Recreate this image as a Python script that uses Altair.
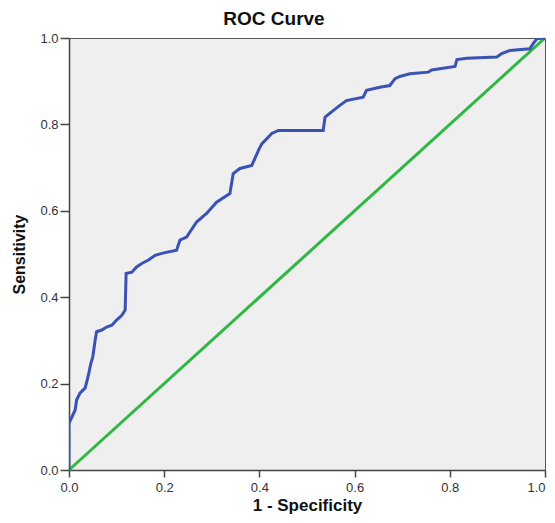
import altair as alt
import pandas as pd

# ROC curve points
fpr = [0, 0, 0.013, 0.016, 0.023, 0.034, 0.040, 0.046, 0.050, 0.055, 0.058, 0.069,
       0.079, 0.090, 0.100, 0.111, 0.118, 0.120, 0.132, 0.142, 0.153, 0.167, 0.181,
       0.197, 0.226, 0.233, 0.247, 0.268, 0.289, 0.310, 0.338, 0.345, 0.359, 0.384,
       0.398, 0.405, 0.426, 0.440, 0.534, 0.538, 0.555, 0.569, 0.583, 0.618, 0.625,
       0.653, 0.674, 0.685, 0.695, 0.716, 0.755, 0.762, 0.779, 0.811, 0.815, 0.836,
       0.899, 0.909, 0.926, 0.968, 0.975, 0.983, 1.0]
tpr = [0, 0.108, 0.139, 0.162, 0.178, 0.190, 0.216, 0.247, 0.262, 0.301, 0.320, 0.324,
       0.331, 0.335, 0.347, 0.358, 0.370, 0.455, 0.458, 0.470, 0.478, 0.486, 0.497,
       0.502, 0.509, 0.532, 0.539, 0.574, 0.594, 0.620, 0.640, 0.686, 0.698, 0.705,
       0.740, 0.755, 0.779, 0.786, 0.786, 0.817, 0.832, 0.844, 0.855, 0.863, 0.879,
       0.886, 0.890, 0.906, 0.911, 0.917, 0.921, 0.926, 0.929, 0.934, 0.950, 0.953,
       0.956, 0.964, 0.971, 0.975, 0.987, 0.998, 1.0]
ref_x = [0.0, 1.0]
ref_y = [0.0, 1.0]
ticks = [0.0, 0.2, 0.4, 0.6, 0.8, 1.0]

assert len(fpr) == len(tpr)
curve = pd.DataFrame({"fpr": fpr, "tpr": tpr, "idx": range(len(fpr))})
diag = pd.DataFrame({"fpr": ref_x, "tpr": ref_y, "idx": [0, 1]})

FONT = "Liberation Sans"

xenc = alt.X("fpr:Q", scale=alt.Scale(domain=[0, 1], nice=False, zero=False),
             axis=alt.Axis(values=ticks, format=".1f", title="1 - Specificity",
                           grid=False, tickSize=7, labelPadding=4,
                           labelAlign={"condition": {"test": "datum.value >= 1",
                                                     "value": "right"},
                                       "value": "center"},
                           titlePadding=3, titleFontSize=17))
yenc = alt.Y("tpr:Q", scale=alt.Scale(domain=[0, 1], nice=False, zero=False),
             axis=alt.Axis(values=ticks, format=".1f", title="Sensitivity",
                           grid=False, tickSize=9, labelPadding=2,
                           titlePadding=12, titleFontSize=16))

blue = alt.Chart(curve).mark_line(color="#3A52B4", strokeWidth=3, clip=True).encode(
    x=xenc, y=yenc, order="idx:Q")
green = alt.Chart(diag).mark_line(color="#2EB842", strokeWidth=3).encode(
    x="fpr:Q", y="tpr:Q", order="idx:Q")

chart = alt.layer(green, blue).properties(
    width=476, height=432,
    title=alt.TitleParams("ROC Curve", fontSize=19, font=FONT, fontWeight="bold",
                          color="#111111", anchor="middle", dx=-33, offset=3),
    autosize=alt.AutoSizeParams(type="none"),
    padding={"left": 61, "top": 30, "right": 2, "bottom": 45},
).configure_view(
    fill="#EFEFEF", stroke="#555555", strokeWidth=1
).configure_axis(
    labelFont=FONT, titleFont=FONT, labelFontSize=13, labelColor="#333333",
    titleColor="#111111", titleFontWeight="bold",
    domainColor="#444444", domainWidth=1.5, tickColor="#444444", tickWidth=1.5
)

chart.save("out.html", embed_options={"renderer": "svg", "actions": False})
